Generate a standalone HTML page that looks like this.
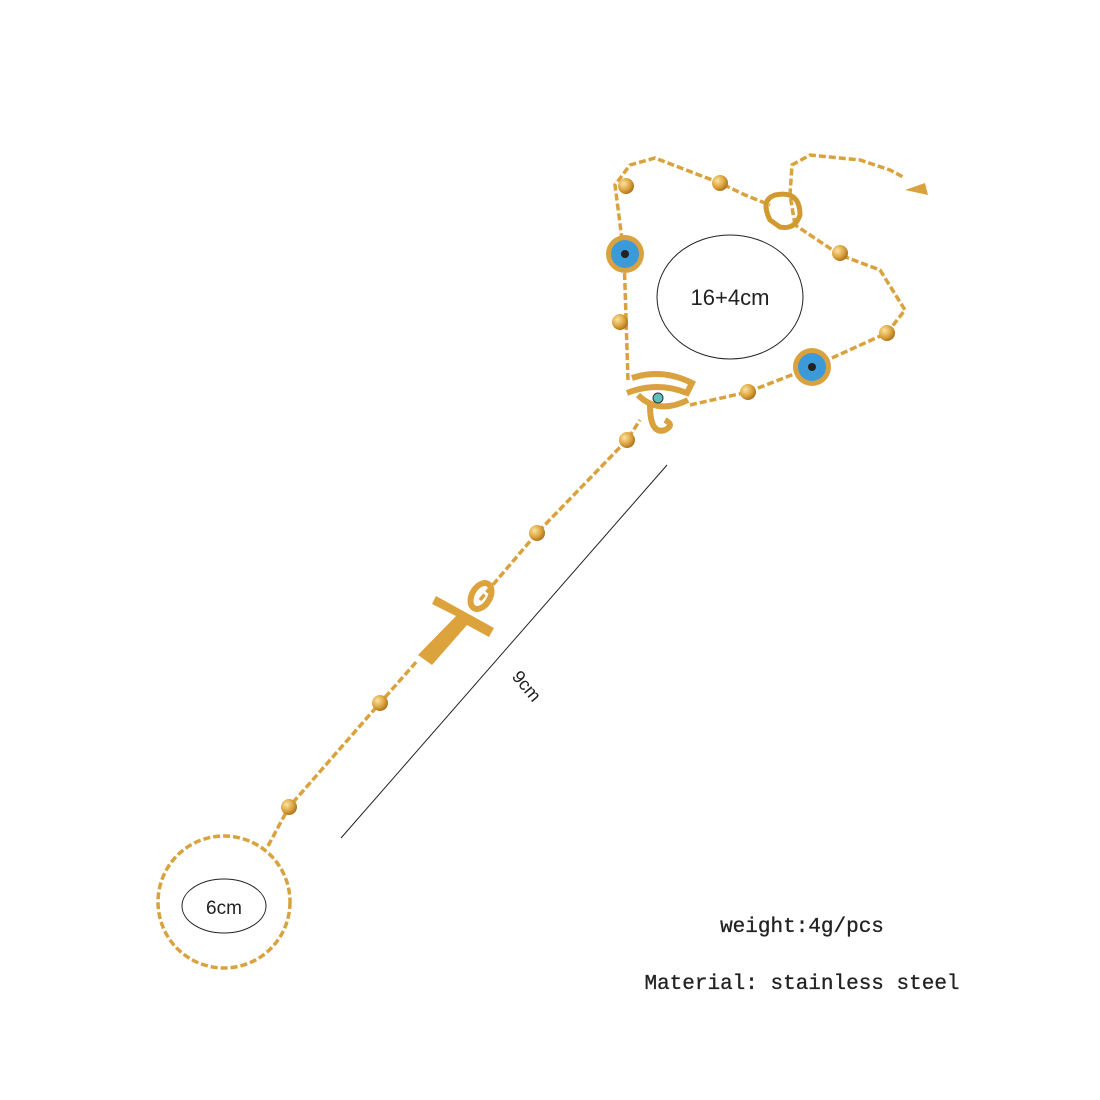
<!DOCTYPE html>
<html><head><meta charset="utf-8"><style>
html,body{margin:0;padding:0;background:#fff;width:1100px;height:1100px;overflow:hidden}
</style></head><body>
<svg width="1100" height="1100" viewBox="0 0 1100 1100" xmlns="http://www.w3.org/2000/svg">
<defs>
<radialGradient id="b" cx="35%" cy="35%" r="70%"><stop offset="0" stop-color="#fbe3a0"/><stop offset="0.6" stop-color="#dca23c"/><stop offset="1" stop-color="#a8701c"/></radialGradient>
</defs>
<g fill="none" stroke="#d9a23e" stroke-width="3.5" stroke-dasharray="7 3" stroke-linecap="butt">
<circle cx="224" cy="902" r="66"/>
<polyline points="268,846 289,807 380,703 418,660"/>
<polyline points="480,600 537,533 627,440 640,420"/>
<polyline points="628,380 624,255 615,185 630,165 655,158 720,183 745,195 770,205"/>
<polyline points="690,405 748,392 812,367 887,333 905,310 880,270 840,255 810,235 795,225"/>
<polyline points="795,225 790,195 792,165 810,155 860,160 890,170 905,178"/>
</g>
<g fill="url(#b)">
<circle cx="289" cy="807" r="8"/><circle cx="380" cy="703" r="8"/><circle cx="537" cy="533" r="8"/><circle cx="627" cy="440" r="8"/>
<circle cx="620" cy="322" r="8"/><circle cx="626" cy="186" r="8"/><circle cx="720" cy="183" r="8"/><circle cx="840" cy="253" r="8"/>
<circle cx="748" cy="392" r="8"/><circle cx="887" cy="333" r="8"/>
</g>
<path d="M905,190 L925,183 L928,195 Z" fill="#d9a23e"/>
<path d="M770,220 q-10,-20 5,-25 q25,-5 25,20 q-5,15 -20,12 z" fill="none" stroke="#d09a30" stroke-width="5"/>
<g><circle cx="625" cy="254" r="19" fill="#d9a23e"/><circle cx="625" cy="254" r="14" fill="#3d9ad9"/><circle cx="625" cy="254" r="4" fill="#222"/></g>
<g><circle cx="812" cy="367" r="19" fill="#d9a23e"/><circle cx="812" cy="367" r="14" fill="#3d9ad9"/><circle cx="812" cy="367" r="4" fill="#222"/></g>
<g fill="none" stroke="#d9a23e" stroke-width="6">
<path d="M632,378 q30,-10 60,5 l-5,10 q-30,-12 -60,0"/>
<path d="M638,395 q20,20 50,5"/>
<path d="M650,405 q0,30 15,25 q10,-5 0,-10"/>
</g>
<circle cx="658" cy="398" r="5" fill="#5cc0c0" stroke="#333" stroke-width="1"/>
<g fill="#dca23c">
<ellipse cx="481" cy="596" rx="9" ry="14" fill="none" stroke="#dca23c" stroke-width="6" transform="rotate(30 481 596)"/>
<path d="M436,596 L494,628 L489,637 L467,625 L432,665 L418,655 L456,616 L432,604 Z"/>
</g>
<ellipse cx="730" cy="297" rx="73" ry="62" fill="none" stroke="#222" stroke-width="1"/>
<text x="730" y="305" text-anchor="middle" font-family="Liberation Sans, sans-serif" font-size="22" fill="#222">16+4cm</text>
<ellipse cx="224" cy="906" rx="42" ry="27" fill="none" stroke="#222" stroke-width="1"/>
<text x="224" y="914" text-anchor="middle" font-family="Liberation Sans, sans-serif" font-size="19" fill="#222">6cm</text>
<line x1="341" y1="838" x2="667" y2="465" stroke="#222" stroke-width="1"/>
<text x="0" y="0" text-anchor="middle" font-family="Liberation Sans, sans-serif" font-size="18" fill="#222" transform="translate(522,690) rotate(50)">9cm</text>
<text x="802" y="932" text-anchor="middle" font-family="Liberation Mono, monospace" font-size="21" fill="#222" stroke="#222" stroke-width="0.3">weight:4g/pcs</text>
<text x="802" y="989" text-anchor="middle" font-family="Liberation Mono, monospace" font-size="21" fill="#222" stroke="#222" stroke-width="0.3">Material: stainless steel</text>
</svg>
</body></html>
